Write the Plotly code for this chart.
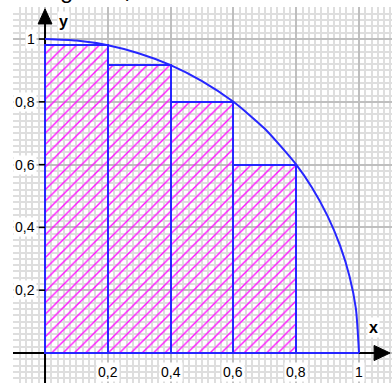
import plotly.graph_objects as go

# Riemann lower sum for the quarter circle, 5 strips on [0, 1]
strip_left = [0.0, 0.2, 0.4, 0.6, 0.8]
strip_width = 0.2
strip_height = [0.9798, 0.9165, 0.8, 0.6, 0.0]

# quarter circle outline
curve_x = [0.0, 0.1, 0.2, 0.3, 0.4, 0.5, 0.6, 0.7, 0.8, 0.85, 0.9, 0.94, 0.97, 0.99, 1.0]
curve_y = [1.0, 0.995, 0.980, 0.954, 0.917, 0.866, 0.8, 0.714, 0.6, 0.527, 0.436, 0.341, 0.243, 0.141, 0.0]

tick_vals = [0.2, 0.4, 0.6, 0.8, 1.0]
tick_text = ["0,2", "0,4", "0,6", "0,8", "1"]
sum_label = "U<sub>5</sub> = 0,6592622072"

BLUE = "#2626ff"
MAGENTA = "#ff10ff"
FONT = "Liberation Sans, Arial, sans-serif"

XR = [-0.102, 1.105]
YR = [-0.0955, 1.102]

fig = go.Figure()

fig.add_trace(go.Bar(
    x=[l + strip_width / 2 for l in strip_left],
    y=strip_height,
    width=strip_width,
    marker=dict(
        color=MAGENTA,
        line=dict(color=BLUE, width=2),
        pattern=dict(shape="/", size=8, solidity=0.17, fillmode="replace"),
    ),
    hoverinfo="skip",
))

fig.add_trace(go.Scatter(
    x=curve_x, y=curve_y, mode="lines",
    line=dict(color=BLUE, width=2, shape="spline", smoothing=0.6),
    hoverinfo="skip",
))

shapes = []
# coordinate axes (below the bars' outlines)
shapes.append(dict(type="line", xref="x", yref="y", x0=XR[0], x1=1.06, y0=0, y1=0,
                   line=dict(color="black", width=2), layer="between"))
shapes.append(dict(type="line", xref="x", yref="y", x0=0, x1=0, y0=YR[0], y1=1.06,
                   line=dict(color="black", width=2), layer="between"))
# blue base of the flat last strip
shapes.append(dict(type="line", xref="x", yref="y", x0=0.8, x1=1.0, y0=0, y1=0,
                   line=dict(color=BLUE, width=2), layer="above"))
# arrow heads
shapes.append(dict(type="path", xref="x", yref="y",
                   path="M 1.048 -0.024 L 1.099 0 L 1.048 0.024 Z",
                   fillcolor="black", line=dict(color="black", width=1), layer="above"))
shapes.append(dict(type="path", xref="x", yref="y",
                   path="M -0.022 1.048 L 0 1.096 L 0.022 1.048 Z",
                   fillcolor="black", line=dict(color="black", width=1), layer="above"))
# tick marks on the y axis
for v in tick_vals:
    shapes.append(dict(type="line", xref="x", yref="y", x0=-0.02, x1=0.0, y0=v, y1=v,
                       line=dict(color="black", width=1.5), layer="above"))

annotations = []
for v, t in zip(tick_vals, tick_text):
    annotations.append(dict(x=-0.026, y=v, xref="x", yref="y", text=t, showarrow=False,
                            xanchor="right", yanchor="middle", bgcolor="white", borderpad=1,
                            font=dict(family=FONT, size=14, color="black")))
    annotations.append(dict(x=v, y=-0.06, xref="x", yref="y", text=t, showarrow=False,
                            xanchor="center", yanchor="middle", bgcolor="white", borderpad=1,
                            font=dict(family=FONT, size=14, color="black")))
annotations.append(dict(x=1.045, y=0.08, xref="x", yref="y", text="<b>x</b>", showarrow=False,
                        xanchor="center", yanchor="middle", bgcolor="white", borderpad=1,
                        font=dict(family=FONT, size=16, color="black")))
annotations.append(dict(x=0.058, y=1.055, xref="x", yref="y", text="<b>y</b>", showarrow=False,
                        xanchor="center", yanchor="middle", bgcolor="white", borderpad=1,
                        font=dict(family=FONT, size=16, color="black")))
# running value of the lower sum, sitting against the top edge
annotations.append(dict(x=0.063, y=1.0, xref="paper", yref="paper", text=sum_label,
                        showarrow=False, xanchor="left", yanchor="bottom", yshift=-2,
                        font=dict(family=FONT, size=30, color="black")))

axis_common = dict(
    showgrid=True, gridcolor="#bfbfbf", gridwidth=2,
    dtick=0.2, tick0=0,
    minor=dict(dtick=0.02, tick0=0, showgrid=True, gridcolor="#dedede", gridwidth=2),
    zeroline=False, showticklabels=False, ticks="", showline=False, fixedrange=True,
)

fig.update_layout(
    width=392, height=383,
    margin=dict(l=13, r=0, t=7, b=0, pad=0),
    paper_bgcolor="white", plot_bgcolor="white",
    showlegend=False,
    bargap=0,
    xaxis=dict(range=XR, **axis_common),
    yaxis=dict(range=YR, **axis_common),
    shapes=shapes,
    annotations=annotations,
)

fig.write_html("out.html")
